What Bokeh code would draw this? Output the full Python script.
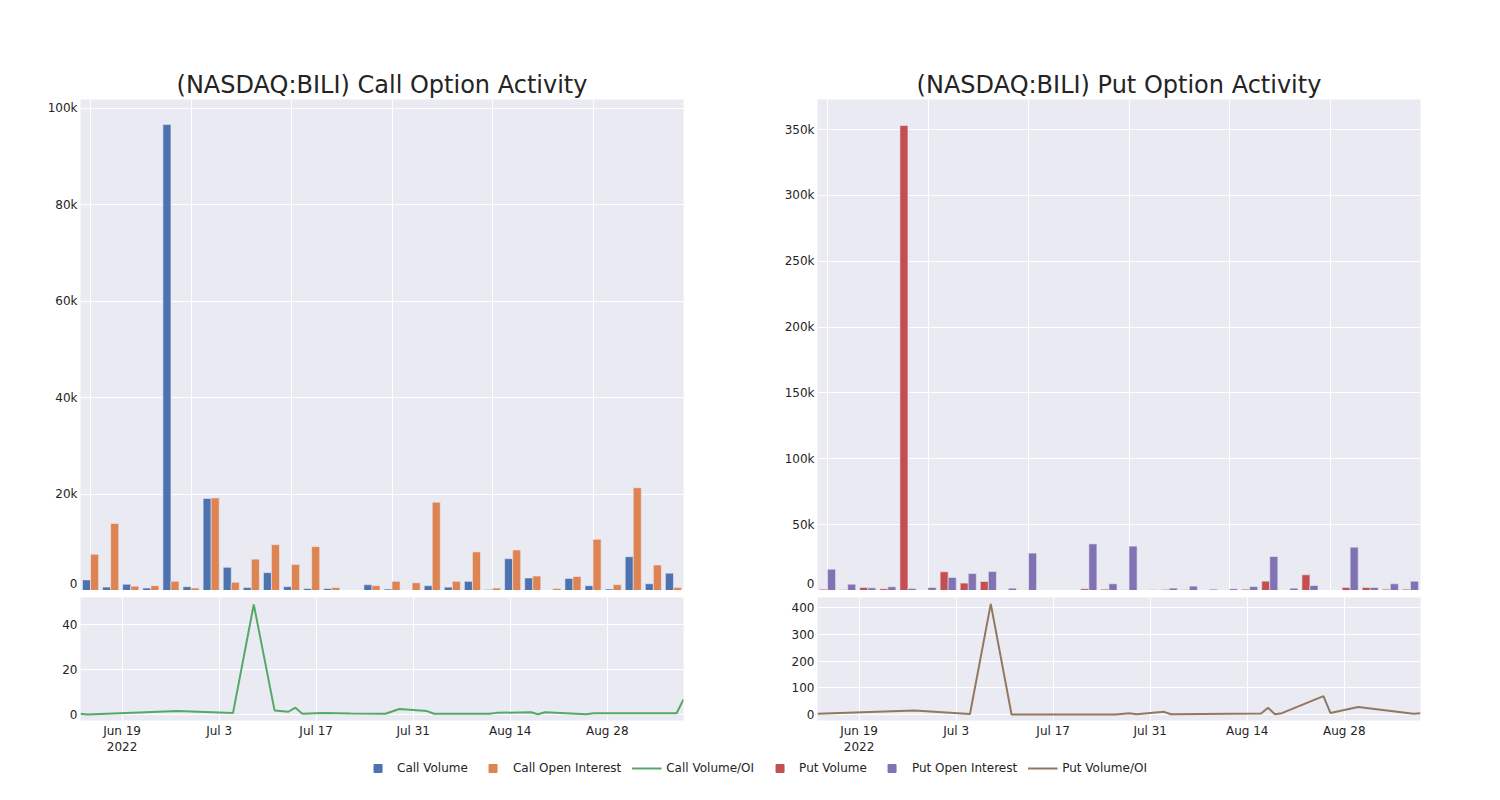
import pandas as pd
from bokeh.plotting import figure
from bokeh.layouts import column, row
from bokeh.models import (Range1d, FixedTicker, Legend, LegendItem, ColumnDataSource, Grid)
from bokeh.transform import dodge
from bokeh.embed import file_html
from bokeh.resources import INLINE

FONT = "DejaVu Sans"
TXT = "#242424"
BG = "#EAEAF2"
BLUE, ORANGE, GREEN = "#4C72B0", "#DD8452", "#55A868"
RED, PURPLE, BROWN = "#C44E52", "#8172B3", "#937860"

# ---------------- data ----------------
bar_index = list(range(30))
call_volume = [2200, 700, 1300, 500, 96600, 800, 19100, 4800, 600, 3700,
               800, 400, 400, 100, 1200, 300, 100, 1000, 700, 1900,
               200, 6600, 2600, 50, 2500, 1000, 300, 7000, 1400, 3600]
call_open_interest = [7500, 13900, 900, 1000, 1900, 500, 19200, 1700, 6500, 9500,
                      5400, 9100, 600, 100, 1000, 1900, 1600, 18300, 1900, 8000,
                      500, 8400, 3000, 400, 2900, 10600, 1200, 21300, 5300, 600]
put_volume = [1000, 500, 2300, 1300, 353000, 0, 14200, 5600, 6800, 300,
              300, 0, 300, 1300, 1000, 500, 300, 800, 500, 0,
              0, 1000, 7100, 0, 11900, 300, 2300, 2300, 1000, 1000]
put_open_interest = [16200, 4800, 2000, 2800, 1500, 2300, 9900, 12900, 14400, 1800,
                     28400, 0, 300, 35400, 5100, 33700, 500, 1800, 3300, 1000,
                     1300, 3000, 25800, 1800, 3800, 300, 32900, 2300, 5100, 7100]

call_ratio_dates = ["2022-06-13", "2022-06-14", "2022-06-27", "2022-07-05", "2022-07-08",
                    "2022-07-11", "2022-07-13", "2022-07-14", "2022-07-15", "2022-07-18",
                    "2022-07-22", "2022-07-27", "2022-07-29", "2022-08-02", "2022-08-03",
                    "2022-08-11", "2022-08-12", "2022-08-17", "2022-08-18", "2022-08-19",
                    "2022-08-25", "2022-08-26", "2022-09-07", "2022-09-08"]
call_ratio = [0.3, 0.0, 1.5, 0.6, 49.0, 1.8, 1.2, 3.0, 0.3, 0.6,
              0.4, 0.3, 2.4, 1.5, 0.3, 0.3, 0.7, 1.0, 0.1, 1.0,
              0.1, 0.5, 0.5, 6.7]

put_ratio_dates = ["2022-06-13", "2022-06-27", "2022-07-05", "2022-07-08", "2022-07-11",
                   "2022-07-15", "2022-07-26", "2022-07-28", "2022-07-29", "2022-08-02",
                   "2022-08-03", "2022-08-16", "2022-08-17", "2022-08-18", "2022-08-19",
                   "2022-08-25", "2022-08-26", "2022-08-30", "2022-09-07", "2022-09-08"]
put_ratio = [2.5, 15, 2, 415, 0, 0, 0, 5, 1, 10,
             1, 4, 25, 1, 5, 69, 6, 28, 2.5, 5]

date_ticks = ["2022-06-19", "2022-07-03", "2022-07-17", "2022-07-31", "2022-08-14", "2022-08-28"]
date_tick_labels = ["Jun 19\n2022", "Jul 3", "Jul 17", "Jul 31", "Aug 14", "Aug 28"]

call_bar_ticks = [0, 20000, 40000, 60000, 80000, 100000]
call_bar_labels = ["0", "20k", "40k", "60k", "80k", "100k"]
put_bar_ticks = [0, 50000, 100000, 150000, 200000, 250000, 300000, 350000]
put_bar_labels = ["0", "50k", "100k", "150k", "200k", "250k", "300k", "350k"]
call_ratio_ticks = [0, 20, 40]
put_ratio_ticks = [0, 100, 200, 300, 400]

legend_labels = ["Call Volume", "Call Open Interest", "Call Volume/OI",
                 "Put Volume", "Put Open Interest", "Put Volume/OI"]


def ms(d):
    return int(pd.Timestamp(d).timestamp() * 1000)


tick_ms = [ms(d) for d in date_ticks]


def style(p):
    p.background_fill_color = BG
    p.border_fill_color = "white"
    p.outline_line_color = None
    for ax in p.axis:
        ax.axis_line_color = None
        ax.major_tick_line_color = None
        ax.minor_tick_line_color = None
        ax.major_tick_out = 0
        ax.major_tick_in = 0
        ax.minor_tick_out = 0
        ax.minor_tick_in = 0
        ax.major_label_text_font = FONT
        ax.major_label_text_font_size = "12px"
        ax.major_label_text_color = TXT
        ax.major_label_standoff = 3


def bar_fig(title, v1, v2, c1, c2, yend, yticks, ylabels, ml, mr):
    p = figure(width=ml + 603 + mr, height=590,
               x_range=Range1d(-0.5, 29.5), y_range=Range1d(0, yend),
               x_axis_location=None, output_backend="svg", toolbar_location=None,
               min_border_left=ml, min_border_right=mr, min_border_top=99,
               min_border_bottom=0)
    src = ColumnDataSource(dict(x=bar_index, a=v1, b=v2))
    p.vbar(x=dodge("x", -0.2, range=p.x_range), top="a", width=0.4, source=src,
           fill_color=c1, line_color=BG, line_width=0.6)
    p.vbar(x=dodge("x", 0.2, range=p.x_range), top="b", width=0.4, source=src,
           fill_color=c2, line_color=BG, line_width=0.6)
    for g in list(p.xgrid):
        g.visible = False
    p.add_layout(Grid(dimension=0, ticker=FixedTicker(ticks=[0, 5, 10, 15, 20, 25]),
                      grid_line_color="white", grid_line_width=1), "center")
    p.yaxis.ticker = FixedTicker(ticks=yticks)
    p.yaxis.major_label_overrides = {t: l for t, l in zip(yticks, ylabels)}
    p.ygrid.grid_line_color = "white"
    p.ygrid.grid_line_width = 1
    style(p)
    p.title.text = title
    p.title.text_font = FONT
    p.title.text_font_size = "24px"
    p.title.text_font_style = "normal"
    p.title.text_color = TXT
    p.title.align = "center"
    p.title.standoff = 2
    return p


def line_fig(dates, vals, color, y0, y1, yticks, ml, mr):
    p = figure(width=ml + 603 + mr, height=168, x_axis_type="datetime",
               x_range=Range1d(ms("2022-06-13"), ms("2022-09-08")),
               y_range=Range1d(y0, y1),
               output_backend="svg", toolbar_location=None,
               min_border_left=ml, min_border_right=mr, min_border_top=7,
               min_border_bottom=38)
    p.line(x=pd.to_datetime(dates), y=vals, line_color=color, line_width=2)
    p.xaxis.ticker = FixedTicker(ticks=tick_ms)
    p.xaxis.major_label_overrides = {t: l for t, l in zip(tick_ms, date_tick_labels)}
    p.yaxis.ticker = FixedTicker(ticks=yticks)
    p.grid.grid_line_color = "white"
    p.grid.grid_line_width = 1
    style(p)
    return p


call_top = bar_fig("(NASDAQ:BILI) Call Option Activity", call_volume, call_open_interest,
                   BLUE, ORANGE, 101800, call_bar_ticks, call_bar_labels, 80, 10)
put_top = bar_fig("(NASDAQ:BILI) Put Option Activity", put_volume, put_open_interest,
                  RED, PURPLE, 372800, put_bar_ticks, put_bar_labels, 124, 50)
call_bot = line_fig(call_ratio_dates, call_ratio, GREEN, -2.7, 52.1, call_ratio_ticks, 80, 10)
put_bot = line_fig(put_ratio_dates, put_ratio, BROWN, -22.5, 438.7, put_ratio_ticks, 124, 50)

# ---------------- legend (key swatches drawn outside the visible range) ----------------
lg = figure(width=1490, height=20, x_range=Range1d(0, 1), y_range=Range1d(0, 1),
            x_axis_location=None, y_axis_location=None, output_backend="svg",
            toolbar_location=None, min_border_left=19, min_border_right=0,
            min_border_top=0, min_border_bottom=0)
lg.outline_line_color = None
lg.background_fill_color = "white"
for g in list(lg.grid):
    g.visible = False
key_src = ColumnDataSource(dict(x=[-5, -4], y=[-5, -4]))
r1 = lg.scatter("x", "y", source=key_src, marker="square", size=12, fill_color=BLUE, line_color=BLUE)
r2 = lg.scatter("x", "y", source=key_src, marker="square", size=12, fill_color=ORANGE, line_color=ORANGE)
r3 = lg.line("x", "y", source=key_src, line_color=GREEN, line_width=2)
r4 = lg.scatter("x", "y", source=key_src, marker="square", size=12, fill_color=RED, line_color=RED)
r5 = lg.scatter("x", "y", source=key_src, marker="square", size=12, fill_color=PURPLE, line_color=PURPLE)
r6 = lg.line("x", "y", source=key_src, line_color=BROWN, line_width=2)
legend = Legend(items=[LegendItem(label=lab, renderers=[r])
                       for lab, r in zip(legend_labels, [r1, r2, r3, r4, r5, r6])],
                orientation="horizontal", location="center", glyph_width=30,
                glyph_height=20, label_standoff=5, spacing=10, padding=0, margin=0,
                border_line_color=None, background_fill_alpha=0,
                label_text_font=FONT, label_text_font_size="12px", label_text_color=TXT)
lg.add_layout(legend, "center")

layout = column(row(column(call_top, call_bot), column(put_top, put_bot)), lg)

open("out.html", "w").write(file_html(layout, INLINE))
